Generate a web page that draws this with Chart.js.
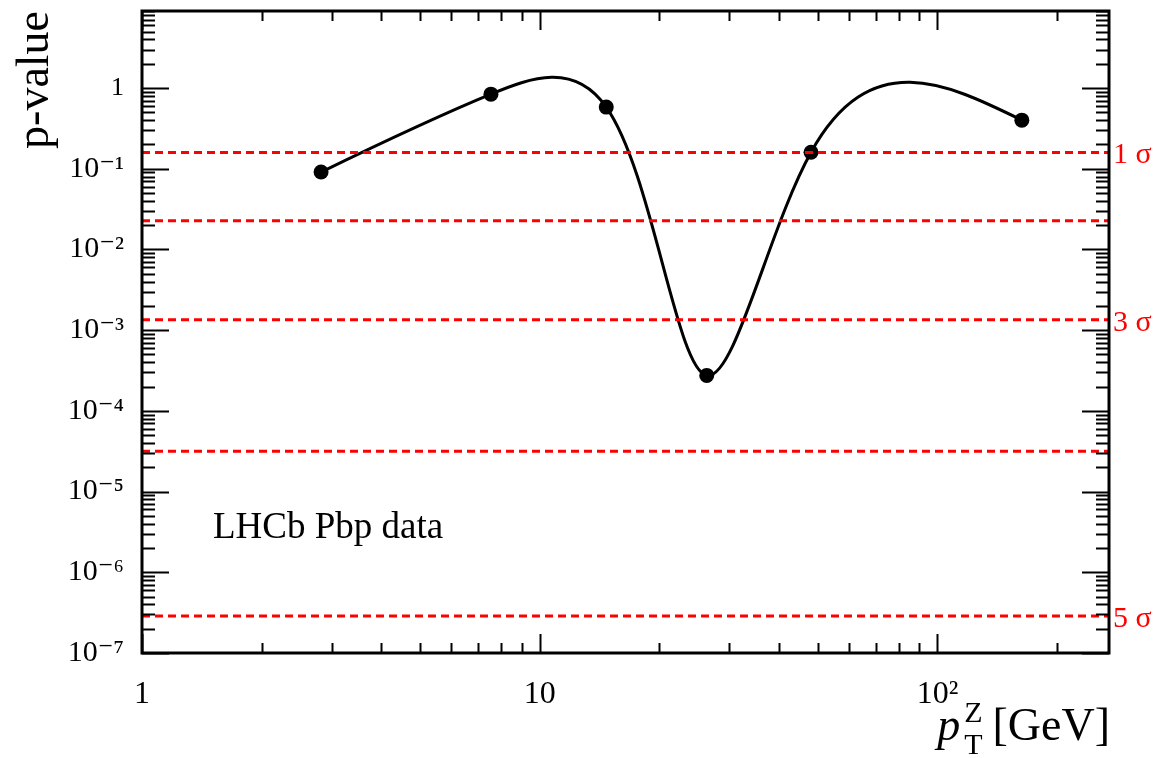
<!DOCTYPE html>
<html>
<head>
<meta charset="utf-8">
<script src="https://cdn.jsdelivr.net/npm/chart.js@4.4.1/dist/chart.umd.min.js"></script>
<style>
html,body{margin:0;padding:0;background:#fff;}
</style>
</head>
<body>
<canvas id="c" width="1160" height="758"></canvas>
<script>
// ---- data ----
const ptZ = [2.82, 7.54, 14.7, 26.3, 48.1, 163];
const pValues = [0.091, 0.84, 0.58, 2.75e-4, 0.16, 0.40];
const sigmaLevels = [1, 2, 3, 4, 5];
const sigmaPValues = [0.1587, 0.02275, 0.00135, 3.167e-5, 2.867e-7];
const sigmaLabelShown = ['1 σ', '', '3 σ', '', '5 σ'];
const xRange = [1, 270];
const yRange = [1e-7, 9];
const xTickValues = [1, 10, 100];
const xTickLabels = ['1', '10', '10²'];
const yTickValues = [1e-7, 1e-6, 1e-5, 1e-4, 1e-3, 1e-2, 1e-1, 1];
const yTickLabels = ['10⁻⁷', '10⁻⁶', '10⁻⁵', '10⁻⁴', '10⁻³', '10⁻²', '10⁻¹', '1'];
const yTitle = 'p-value';
const annotationText = 'LHCb Pbp data';

const SERIF = '"Liberation Serif", "DejaVu Serif", serif';

function minorValues(lo, hi) {
  const out = [];
  for (let d = Math.floor(Math.log10(lo)); d <= Math.ceil(Math.log10(hi)); d++) {
    for (let m = 1; m <= 9; m++) {
      const v = m * Math.pow(10, d);
      if (v >= lo * 0.9999 && v <= hi * 1.0001) out.push({v: v, major: m === 1});
    }
  }
  return out;
}

// natural cubic spline: derivatives at knots
function natDerivs(s, v) {
  const n = s.length, h = [], d = [];
  for (let i = 0; i < n - 1; i++) { h.push(s[i+1] - s[i]); d.push((v[i+1] - v[i]) / h[i]); }
  const a = new Array(n).fill(0), b = new Array(n).fill(1), c = new Array(n).fill(0), r = new Array(n).fill(0);
  for (let i = 1; i < n - 1; i++) { a[i] = h[i-1]; b[i] = 2 * (h[i-1] + h[i]); c[i] = h[i]; r[i] = 6 * (d[i] - d[i-1]); }
  const cp = new Array(n).fill(0), rp = new Array(n).fill(0);
  cp[0] = c[0] / b[0]; rp[0] = r[0] / b[0];
  for (let i = 1; i < n; i++) { const m = b[i] - a[i] * cp[i-1]; cp[i] = c[i] / m; rp[i] = (r[i] - a[i] * rp[i-1]) / m; }
  const M = new Array(n).fill(0); M[n-1] = rp[n-1];
  for (let i = n - 2; i >= 0; i--) M[i] = rp[i] - cp[i] * M[i+1];
  const D = [];
  for (let i = 0; i < n - 1; i++) D.push(d[i] - h[i] * (2 * M[i] + M[i+1]) / 6);
  D.push(d[n-2] + h[n-2] * (M[n-2] + 2 * M[n-1]) / 6);
  return {D, h};
}

// smooth-curve plugin: sets the line element's bezier control points from a parametric spline
const smoothPlugin = {
  id: 'smoothCurve',
  beforeDatasetsDraw(chart) {
    const meta = chart.getDatasetMeta(0);
    const line = meta.dataset;
    if (!line) return;
    line.updateControlPoints(chart.chartArea, 'x');
    const pts = line.points;
    const n = pts.length;
    if (n < 3) return;
    const ys = 0.5;
    const px = pts.map(p => p.x), qy = pts.map(p => p.y * ys);
    const s = [0];
    for (let i = 1; i < n; i++) s.push(s[i-1] + Math.hypot(px[i] - px[i-1], qy[i] - qy[i-1]));
    const X = natDerivs(s, px), Y = natDerivs(s, qy);
    for (let i = 0; i < n; i++) {
      const hb = i > 0 ? X.h[i-1] / 3 : 0;
      const ha = i < n - 1 ? X.h[i] / 3 : 0;
      pts[i].cp1x = px[i] - hb * X.D[i];
      pts[i].cp1y = (qy[i] - hb * Y.D[i]) / ys;
      pts[i].cp2x = px[i] + ha * X.D[i];
      pts[i].cp2y = (qy[i] + ha * Y.D[i]) / ys;
    }
    line._path = undefined;
  }
};

const sigmaDatasets = sigmaPValues.map((p, i) => ({
  label: sigmaLevels[i] + ' sigma',
  data: [{x: xRange[0], y: p}, {x: xRange[1], y: p}],
  borderColor: '#ff0000',
  borderWidth: 3,
  borderDash: [8, 5],
  pointRadius: 0,
  tension: 0,
  order: 1
}));

const framePlugin = {
  id: 'frameTicks',
  afterDatasetsDraw(chart) {
    const ctx = chart.ctx, a = chart.chartArea;
    const xs = chart.scales.x, ys = chart.scales.y;
    ctx.save();
    ctx.strokeStyle = '#000';
    ctx.lineWidth = 2;
    ctx.beginPath();
    minorValues(xRange[0], xRange[1]).forEach(t => {
      const px = Math.round(xs.getPixelForValue(t.v)) + 0.5;
      const len = t.major ? 19 : 10;
      ctx.moveTo(px, a.bottom); ctx.lineTo(px, a.bottom - len);
      ctx.moveTo(px, a.top); ctx.lineTo(px, a.top + len);
    });
    minorValues(yRange[0], yRange[1]).forEach(t => {
      const py = Math.round(ys.getPixelForValue(t.v)) + 0.5;
      const len = t.major ? 27 : 13;
      ctx.moveTo(a.left, py); ctx.lineTo(a.left + len, py);
      ctx.moveTo(a.right, py); ctx.lineTo(a.right - len, py);
    });
    ctx.stroke();
    ctx.lineWidth = 3;
    ctx.strokeRect(a.left, a.top, a.right - a.left, a.bottom - a.top);
    ctx.restore();
  },
  afterDraw(chart) {
    const ctx = chart.ctx, a = chart.chartArea;
    const ys = chart.scales.y;
    ctx.save();
    // sigma labels
    ctx.fillStyle = '#ff0000';
    ctx.font = '30px ' + SERIF;
    ctx.textBaseline = 'middle';
    ctx.textAlign = 'left';
    sigmaPValues.forEach((p, i) => {
      if (!sigmaLabelShown[i]) return;
      ctx.fillText(sigmaLabelShown[i], a.right + 4, ys.getPixelForValue(p) + 3);
    });
    // annotation
    ctx.fillStyle = '#000';
    ctx.font = '37px ' + SERIF;
    ctx.textBaseline = 'alphabetic';
    ctx.fillText(annotationText, a.left + 71, a.top + 527);
    // x-axis title  p_T^Z [GeV]
    const base = 740;
    ctx.textAlign = 'right';
    ctx.font = '46px ' + SERIF;
    ctx.fillText('[GeV]', a.right + 1, base);
    const gevW = ctx.measureText('[GeV]').width;
    const xr = a.right + 1 - gevW - 10;
    ctx.font = '30px ' + SERIF;
    ctx.fillText('Z', xr, base - 18);
    ctx.fillText('T', xr, base + 14);
    const zw = ctx.measureText('Z').width;
    ctx.font = 'italic 46px ' + SERIF;
    ctx.fillText('p', xr - zw - 4, base);
    ctx.restore();
  }
};

new Chart(document.getElementById('c'), {
  type: 'line',
  data: {
    datasets: [
      {
        label: 'p-value',
        data: ptZ.map((x, i) => ({x: x, y: pValues[i]})),
        borderColor: '#000',
        backgroundColor: '#000',
        borderWidth: 3,
        pointRadius: 7.5,
        pointHoverRadius: 7.5,
        pointBackgroundColor: '#000',
        pointBorderWidth: 0,
        tension: 0.4,
        order: 2
      },
      ...sigmaDatasets
    ]
  },
  options: {
    responsive: false,
    animation: false,
    devicePixelRatio: 1,
    layout: {padding: {left: 0, right: 51, top: 11, bottom: 0}},
    plugins: {legend: {display: false}, tooltip: {enabled: false}},
    elements: {line: {capBezierPoints: false}},
    scales: {
      x: {
        type: 'logarithmic',
        min: xRange[0], max: xRange[1],
        grid: {display: false, drawTicks: false},
        border: {display: false},
        afterBuildTicks: (s) => { s.ticks = xTickValues.map(v => ({value: v})); },
        afterFit: (s) => { s.height = 105; s.paddingLeft = 0; s.paddingRight = 0; },
        ticks: {
          autoSkip: false, maxRotation: 0,
          padding: 22,
          color: '#000',
          font: {family: SERIF, size: 32},
          callback: (v) => { const i = xTickValues.findIndex(t => Math.abs(t - v) / t < 1e-6); return i >= 0 ? xTickLabels[i] : ''; }
        }
      },
      y: {
        type: 'logarithmic',
        min: yRange[0], max: yRange[1],
        grid: {display: false, drawTicks: false},
        border: {display: false},
        afterBuildTicks: (s) => { s.ticks = yTickValues.map(v => ({value: v})); },
        afterFit: (s) => { s.width = 142; s.paddingTop = 0; s.paddingBottom = 0; },
        title: {display: true, text: yTitle, align: 'end', color: '#000', font: {family: SERIF, size: 46}, padding: {top: 8, bottom: 0}},
        ticks: {
          autoSkip: false,
          padding: 18,
          color: '#000',
          font: (c) => ({family: SERIF, size: (c.tick && Math.abs(c.tick.value - 1) < 1e-9) ? 26 : 30}),
          callback: (v) => { const i = yTickValues.findIndex(t => Math.abs(t - v) / t < 1e-6); return i >= 0 ? yTickLabels[i] : ''; }
        }
      }
    }
  },
  plugins: [smoothPlugin, framePlugin]
});
</script>
</body>
</html>
